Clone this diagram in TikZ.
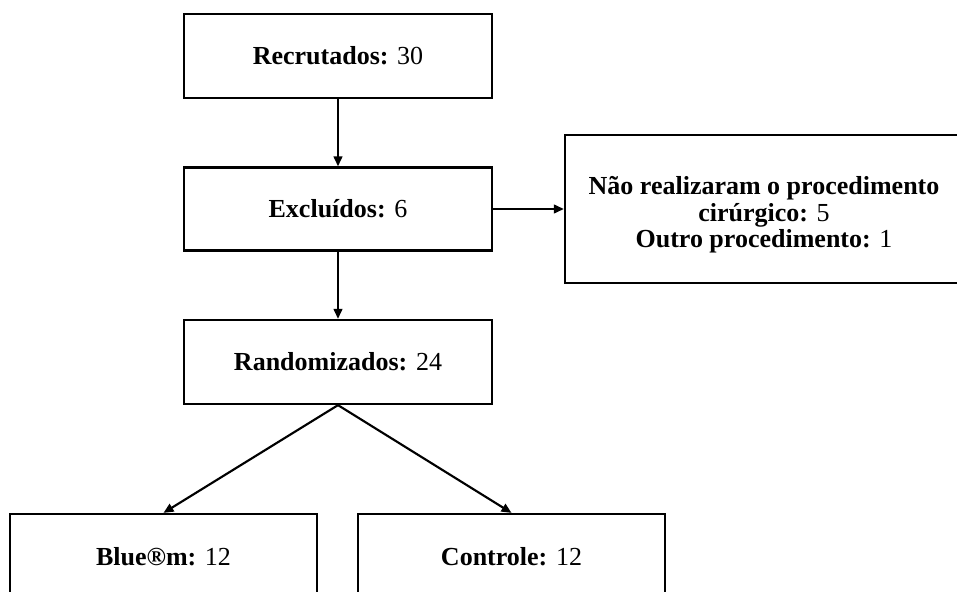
\documentclass[tikz,border=0pt]{standalone}
\usepackage{fontspec}
\setmainfont{Liberation Serif}
\usetikzlibrary{arrows.meta}
\begin{document}
\begin{tikzpicture}[x=0.75pt,y=-0.75pt,
  box/.style={draw, line width=1.7pt, inner sep=0pt, align=center,
    font=\fontsize{19.5}{20}\selectfont},
  txt/.style={inner sep=0pt, align=center, font=\fontsize{19.5}{20}\selectfont},
  arr/.style={line width=1.6pt, -{Triangle[length=7.5pt,width=6.5pt]}}]
\useasboundingbox (0,0) rectangle (957,592);
\clip (0,0) rectangle (957,592);
\node[box, minimum width=231pt, minimum height=63pt] (rec) at (338,56) {\textbf{Recrutados:} 30};
\node[box, minimum width=231pt, minimum height=62.25pt] (exc) at (338,209) {\textbf{Excluídos:} 6};
\node[box, minimum width=231pt, minimum height=63pt] (ran) at (338,362) {\textbf{Randomizados:} 24};
\node[box, minimum width=298.5pt, minimum height=111pt] (nao) at (764,209) {};
\node[txt] (naot) at (764,215)
  {\textbf{Não realizaram o procedimento}\\\textbf{cirúrgico:} 5\\\textbf{Outro procedimento:} 1};
\node[box, minimum width=230.25pt, minimum height=64.5pt] (blue) at (163.5,557) {\textbf{Blue®m:} 12};
\node[box, minimum width=230.25pt, minimum height=64.5pt] (con) at (511.5,557) {\textbf{Controle:} 12};
\draw[arr] (rec.south) -- (exc.north);
\draw[arr] (exc.east) -- (nao.west);
\draw[arr] (exc.south) -- (ran.north);
\draw[arr] (ran.south) -- (blue.north);
\draw[arr] (ran.south) -- (con.north);
\end{tikzpicture}
\end{document}
